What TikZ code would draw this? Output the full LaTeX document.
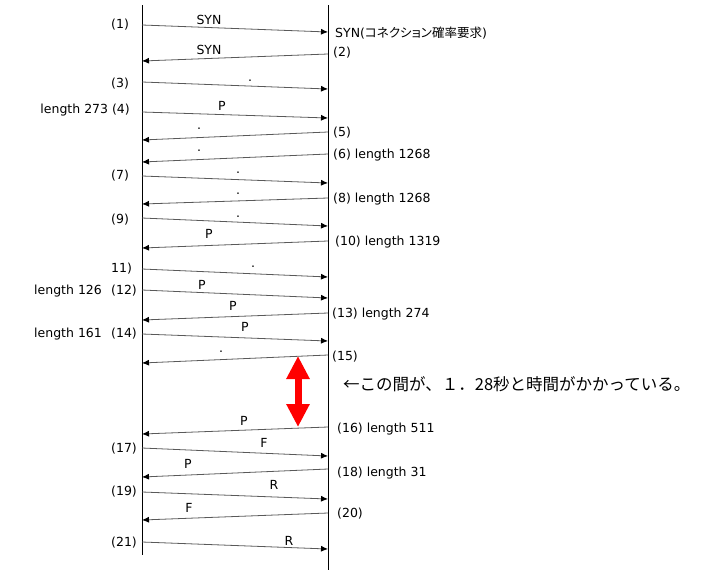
\documentclass[tikz,border=0pt]{standalone}
\usepackage{fontspec}
\setmainfont{DejaVu Sans}
\newfontfamily\jp[RawFeature=+palt]{Noto Sans CJK JP}
\newfontfamily\jpnote{Noto Sans CJK JP}
\usetikzlibrary{arrows.meta}
\tikzstyle{msg} = [draw=black!65, line width=0.8pt, -{Latex[length=7pt,width=6pt,black]}]
\tikzstyle{lbl} = [font=\fontsize{12.5}{12.5}\selectfont, inner sep=0pt]
\tikzstyle{side} = [lbl, anchor=west]

\begin{document}
\begin{tikzpicture}[x=1pt,y=-1pt]
  \useasboundingbox (0,0) rectangle (703,570);

  % lifelines
  \coordinate (ltop) at (142,5);
  \coordinate (lbot) at (142,555);
  \coordinate (rtop) at (328,5);
  \coordinate (rbot) at (328,570);
  \draw[line width=0.8pt] (ltop) -- (lbot);
  \draw[line width=0.8pt] (rtop) -- (rbot);

  % message ends
  \path (142,25) coordinate (l1)   (328,32) coordinate (r1);
  \path (142,61) coordinate (l2)   (328,54) coordinate (r2);
  \path (142,82) coordinate (l3)   (328,89) coordinate (r3);
  \path (142,112) coordinate (l4)  (328,118) coordinate (r4);
  \path (142,140) coordinate (l5)  (328,132) coordinate (r5);
  \path (142,162) coordinate (l6)  (328,154) coordinate (r6);
  \path (142,176) coordinate (l7)  (328,183) coordinate (r7);
  \path (142,204) coordinate (l8)  (328,198) coordinate (r8);
  \path (142,218) coordinate (l9)  (328,226) coordinate (r9);
  \path (142,248) coordinate (l10) (328,241) coordinate (r10);
  \path (142,269) coordinate (l11) (328,277) coordinate (r11);
  \path (142,290) coordinate (l12) (328,298) coordinate (r12);
  \path (142,320) coordinate (l13) (328,313) coordinate (r13);
  \path (142,334) coordinate (l14) (328,341) coordinate (r14);
  \path (142,363) coordinate (l15) (328,355) coordinate (r15);
  \path (142,434) coordinate (l16) (328,427) coordinate (r16);
  \path (142,448) coordinate (l17) (328,456) coordinate (r17);
  \path (142,477) coordinate (l18) (328,469) coordinate (r18);
  \path (142,492) coordinate (l19) (328,499) coordinate (r19);
  \path (142,520) coordinate (l20) (328,513) coordinate (r20);
  \path (142,542) coordinate (l21) (328,549) coordinate (r21);

  \draw[msg] (l1) -- (r1);
  \draw[msg] (r2) -- (l2);
  \draw[msg] (l3) -- (r3);
  \draw[msg] (l4) -- (r4);
  \draw[msg] (r5) -- (l5);
  \draw[msg] (r6) -- (l6);
  \draw[msg] (l7) -- (r7);
  \draw[msg] (r8) -- (l8);
  \draw[msg] (l9) -- (r9);
  \draw[msg] (r10) -- (l10);
  \draw[msg] (l11) -- (r11);
  \draw[msg] (l12) -- (r12);
  \draw[msg] (r13) -- (l13);
  \draw[msg] (l14) -- (r14);
  \draw[msg] (r15) -- (l15);
  \draw[msg] (r16) -- (l16);
  \draw[msg] (l17) -- (r17);
  \draw[msg] (r18) -- (l18);
  \draw[msg] (l19) -- (r19);
  \draw[msg] (r20) -- (l20);
  \draw[msg] (l21) -- (r21);

  % flags on the messages
  \node[lbl] (f1)  at (209,20)  {SYN};
  \node[lbl] (f2)  at (209,50)  {SYN};
  \node[lbl] (f3)  at (250,81)  {.};
  \node[lbl] (f4)  at (222,106) {P};
  \node[lbl] (f5)  at (199,129) {.};
  \node[lbl] (f6)  at (199,151) {.};
  \node[lbl] (f7)  at (238,173) {.};
  \node[lbl] (f8)  at (238,194) {.};
  \node[lbl] (f9)  at (238,217) {.};
  \node[lbl] (f10) at (209,234) {P};
  \node[lbl] (f11) at (253,267) {.};
  \node[lbl] (f12) at (202,285) {P};
  \node[lbl] (f13) at (233,306) {P};
  \node[lbl] (f14) at (245,327) {P};
  \node[lbl] (f15) at (221,352) {.};
  \node[lbl] (f16) at (244,421) {P};
  \node[lbl] (f17) at (264,443) {F};
  \node[lbl] (f18) at (188,464) {P};
  \node[lbl] (f19) at (274,485) {R};
  \node[lbl] (f20) at (189,508) {F};
  \node[lbl] (f21) at (289,541) {R};

  % numbers on the left
  \node[side] (n1)  at (111,25)  {(1)};
  \node[side] (n3)  at (111,84)  {(3)};
  \node[lbl, anchor=east] (n4) at (130,110) {length 273 (4)};
  \node[side] (n7)  at (111,176) {(7)};
  \node[side] (n9)  at (111,220) {(9)};
  \node[side] (n11) at (111,269) {11)};
  \node[side] (n12) at (111,291) {(12)};
  \node[side] (len12) at (34,291) {length 126};
  \node[side] (n14) at (111,334) {(14)};
  \node[side] (len14) at (34,334) {length 161};
  \node[side] (n17) at (111,449) {(17)};
  \node[side] (n19) at (111,492) {(19)};
  \node[side] (n21) at (111,543) {(21)};

  % numbers on the right
  \node[side] (syn) at (335,33)  {SYN({\jp コネクション確率要求})};
  \node[side] (n2)  at (333,53)  {(2)};
  \node[side] (n5)  at (333,133) {(5)};
  \node[side] (n6)  at (333,155) {(6) length 1268};
  \node[side] (n8)  at (333,199) {(8) length 1268};
  \node[side] (n10) at (335,242) {(10) length 1319};
  \node[side] (n13) at (332,314) {(13) length 274};
  \node[side] (n15) at (332,357) {(15)};
  \node[side] (n16) at (337,429) {(16) length 511};
  \node[side] (n18) at (337,473) {(18) length 31};
  \node[side] (n20) at (337,514) {(20)};

  % the gap
  \coordinate (gtop) at (298,356);
  \coordinate (gbot) at (298,427);
  \draw[red, line width=7pt, {Triangle[length=23pt,width=22pt]}-{Triangle[length=23pt,width=22pt]}] (gtop) -- (gbot);
  \node[anchor=west, inner sep=0pt, font=\jpnote\fontsize{16.5}{16.5}\selectfont] (note) at (343,384) {←この間が、１．28秒と時間がかかっている。};
\end{tikzpicture}
\end{document}
